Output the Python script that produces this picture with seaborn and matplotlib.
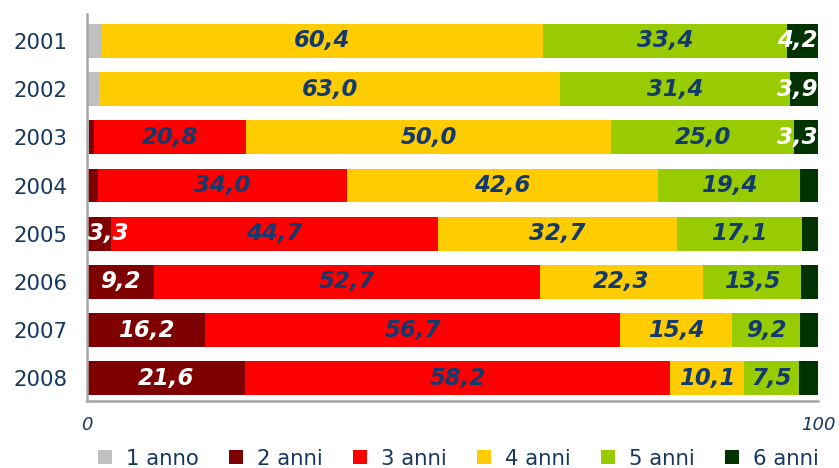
import matplotlib
matplotlib.use("Agg")
import matplotlib.pyplot as plt
from matplotlib.patches import Patch
import seaborn as sns
import pandas as pd

years = ["2001", "2002", "2003", "2004", "2005", "2006", "2007", "2008"]
categories = ["1 anno", "2 anni", "3 anni", "4 anni", "5 anni", "6 anni"]
anni_1 = [2.0, 1.7, 0.3, 0.0, 0.0, 0.0, 0.0, 0.0]
anni_2 = [0.0, 0.0, 0.6, 1.5, 3.3, 9.2, 16.2, 21.6]
anni_3 = [0.0, 0.0, 20.8, 34.0, 44.7, 52.7, 56.7, 58.2]
anni_4 = [60.4, 63.0, 50.0, 42.6, 32.7, 22.3, 15.4, 10.1]
anni_5 = [33.4, 31.4, 25.0, 19.4, 17.1, 13.5, 9.2, 7.5]
anni_6 = [4.2, 3.9, 3.3, 2.5, 2.2, 2.3, 2.5, 2.6]
x_ticks = [0, 100]

colors = ["#C0C0C0", "#7F0000", "#FF0000", "#FFCC00", "#99CC00", "#003300"]
navy = "#17375E"
label_navy = "#123A6E"
label_colors = [label_navy, "white", label_navy, label_navy, label_navy, "white"]

series = [anni_1, anni_2, anni_3, anni_4, anni_5, anni_6]
df = pd.DataFrame({c: v for c, v in zip(categories, series)}, index=years)
cum = df.cumsum(axis=1)

sns.set_theme(style="white")
plt.rcParams["font.family"] = ["DejaVu Sans"]

fig = plt.figure(figsize=(8.39, 4.68), dpi=100)
ax = fig.add_axes([0.1037, 0.1432, 0.8713, 0.8269])

# stacked bars: draw cumulative totals from outermost layer inward
for i in range(len(categories) - 1, -1, -1):
    d = pd.DataFrame({"year": years, "value": cum[categories[i]].values})
    sns.barplot(data=d, x="value", y="year", order=years, orient="h",
                color=colors[i], saturation=1, width=0.7, errorbar=None,
                linewidth=0, ax=ax)

# value labels at segment centres, kept inside the plot area
half_w = 2.4
for i, cat in enumerate(categories):
    for j, yr in enumerate(years):
        v = df.loc[yr, cat]
        if v >= 3:
            xc = cum.loc[yr, cat] - v / 2
            ha = "center"
            if xc - half_w < 0:
                xc, ha = 0.2, "left"
            elif xc + half_w > 100:
                xc, ha = 99.9, "right"
            ax.text(xc, j, f"{v:.1f}".replace(".", ","), ha=ha, va="center",
                    fontsize=16.5, fontweight="bold", fontstyle="italic",
                    color=label_colors[i], clip_on=False, zorder=5)

ax.set_xlim(0, 100)
ax.set_ylim(7.47, -0.56)
ax.set_xticks(x_ticks)
ax.set_xticklabels([str(t) for t in x_ticks], fontstyle="italic", fontsize=13, color=navy)
ax.tick_params(axis="x", length=0, pad=11)
ax.tick_params(axis="y", length=0, pad=14, labelsize=15.3, labelcolor=navy)
ax.set_xlabel("")
ax.set_ylabel("")
for s in ["top", "right"]:
    ax.spines[s].set_visible(False)
for s in ["left", "bottom"]:
    ax.spines[s].set_color("#A6A6A6")
    ax.spines[s].set_linewidth(1.8)

handles = [Patch(facecolor=c, edgecolor="none", label=l) for c, l in zip(colors, categories)]
fig.legend(handles=handles, loc="center left", bbox_to_anchor=(0.1168, 0.02), ncol=6,
           frameon=False, fontsize=15.3, handlelength=0.66, handleheight=0.66,
           handletextpad=0.66, columnspacing=1.42, labelcolor=navy,
           borderpad=0, borderaxespad=0)

fig.savefig("out.png", dpi=100)
